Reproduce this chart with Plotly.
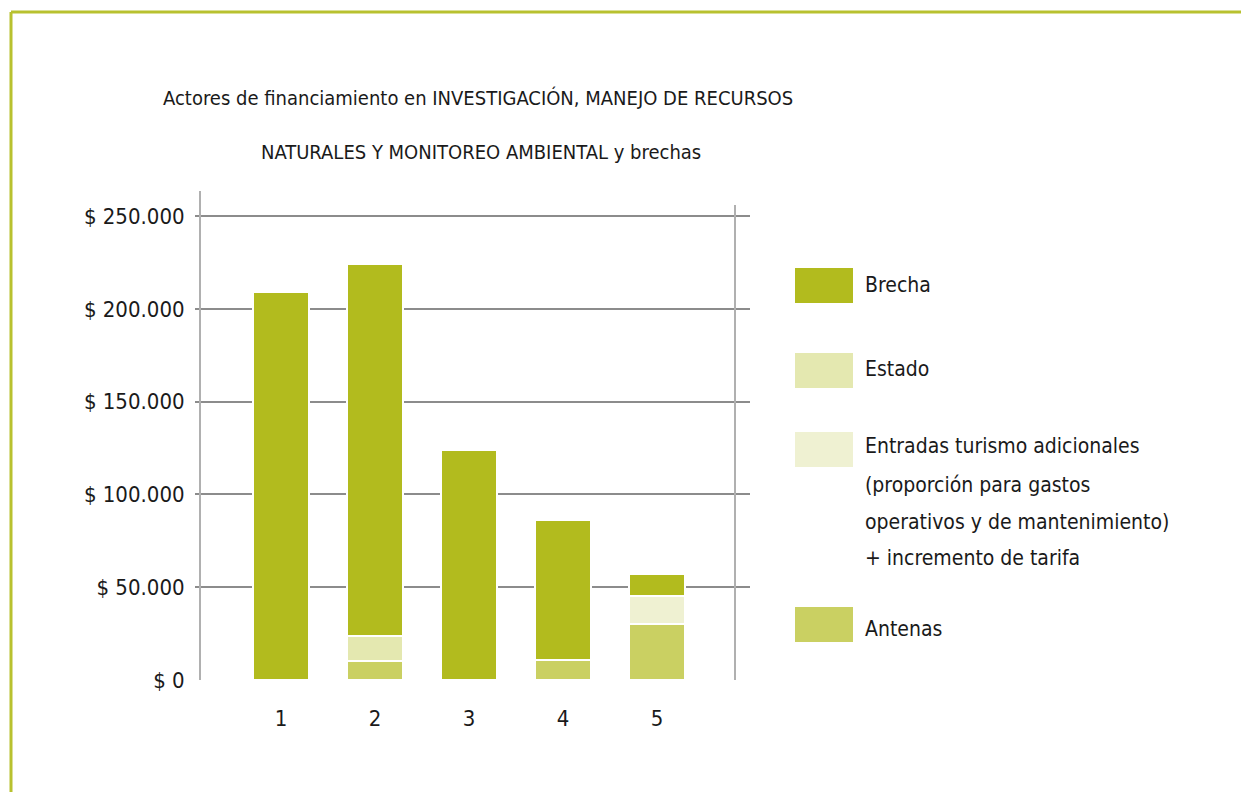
import plotly.graph_objects as go

# datos
proyectos = [1, 2, 3, 4, 5]
antenas = [0, 10000, 0, 11000, 30000]
entradas_turismo = [0, 0, 0, 0, 15000]
estado = [0, 13500, 0, 0, 0]
brecha = [209000, 200500, 124000, 75000, 12000]

y_ticks = [0, 50000, 100000, 150000, 200000, 250000]
y_labels = ["$ 0", "$ 50.000", "$ 100.000", "$ 150.000", "$ 200.000", "$ 250.000"]

series = [
    ("Antenas", antenas, "#CAD062"),
    ("Entradas turismo adicionales", entradas_turismo, "#EFF1D2"),
    ("Estado", estado, "#E4E8B0"),
    ("Brecha", brecha, "#B2BB1E"),
]

FONT = "Liberation Sans Narrow, DejaVu Sans Condensed, Roboto, sans-serif"
OFF = 8  # margen del body de la página
W, H = 1249 - OFF, 792 - OFF
L, R, T, B = 195, 750, 191, 680  # área de trazado en píxeles de pantalla


def px(x):
    return (x - L) / (R - L)


def py(y):
    return (B - y) / (B - T)


fig = go.Figure()
for nombre, vals, color in series:
    fig.add_trace(go.Bar(
        x=proyectos, y=vals, name=nombre,
        marker=dict(color=color, line=dict(color="white", width=2)),
        width=0.6, showlegend=False,
    ))

fig.update_layout(
    barmode="stack",
    width=W, height=H,
    margin=dict(l=L - OFF, r=1249 - R, t=T - OFF, b=792 - B, pad=0),
    plot_bgcolor="white", paper_bgcolor="white",
    font=dict(family=FONT, size=22, color="#1a1a1a"),
    xaxis=dict(
        range=[1 + (L - 281) / 94, 1 + (R - 281) / 94],
        tickvals=proyectos, ticktext=[str(p) for p in proyectos],
        showgrid=False, zeroline=False, showline=False,
        ticks="outside", ticklen=19, tickcolor="rgba(0,0,0,0)",
    ),
    yaxis=dict(
        range=[0, 263500],
        tickvals=y_ticks, ticktext=y_labels,
        showgrid=True, gridcolor="#8c8c8c", gridwidth=1.5,
        zeroline=False, showline=False,
        ticks="outside", ticklen=5, tickcolor="rgba(0,0,0,0)",
    ),
)

# ejes verticales
shapes = [
    dict(type="line", xref="paper", yref="paper", x0=px(200), x1=px(200), y0=0, y1=1,
         line=dict(color="#b0b0b0", width=2)),
    dict(type="line", xref="paper", yref="paper", x0=px(735), x1=px(735), y0=0, y1=py(205),
         line=dict(color="#b0b0b0", width=2)),
    # marco
    dict(type="line", xref="paper", yref="paper", x0=px(11), x1=px(1260), y0=py(12), y1=py(12),
         line=dict(color="#B8C12F", width=3)),
    dict(type="line", xref="paper", yref="paper", x0=px(11), x1=px(11), y0=py(12), y1=py(800),
         line=dict(color="#B8C12F", width=3)),
]

annotations = [
    dict(text="Actores de financiamiento en INVESTIGACIÓN, MANEJO DE RECURSOS",
         x=px(478), y=py(98), xref="paper", yref="paper", showarrow=False,
         xanchor="center", yanchor="middle", font=dict(size=20)),
    dict(text="NATURALES Y MONITOREO AMBIENTAL y brechas",
         x=px(481), y=py(152), xref="paper", yref="paper", showarrow=False,
         xanchor="center", yanchor="middle", font=dict(size=20)),
]

# leyenda manual
leyenda = [
    ("Brecha", "#B2BB1E", 268, [(285, "Brecha")]),
    ("Estado", "#E4E8B0", 353, [(369, "Estado")]),
    ("Entradas", "#EFF1D2", 432, [
        (446, "Entradas turismo adicionales"),
        (485, "(proporción para gastos"),
        (522, "operativos y de mantenimiento)"),
        (558, "+ incremento de tarifa"),
    ]),
    ("Antenas", "#CAD062", 607, [(629, "Antenas")]),
]
for nombre, color, top, lineas in leyenda:
    shapes.append(dict(type="rect", xref="paper", yref="paper",
                       x0=px(795), x1=px(853), y0=py(top + 35), y1=py(top),
                       fillcolor=color, line=dict(width=0)))
    for ty, texto in lineas:
        annotations.append(dict(text=texto, x=px(863), y=py(ty), xref="paper", yref="paper",
                                xanchor="left", yanchor="middle", showarrow=False,
                                font=dict(size=21)))

fig.update_layout(shapes=shapes, annotations=annotations)

fig.write_html("out.html")
